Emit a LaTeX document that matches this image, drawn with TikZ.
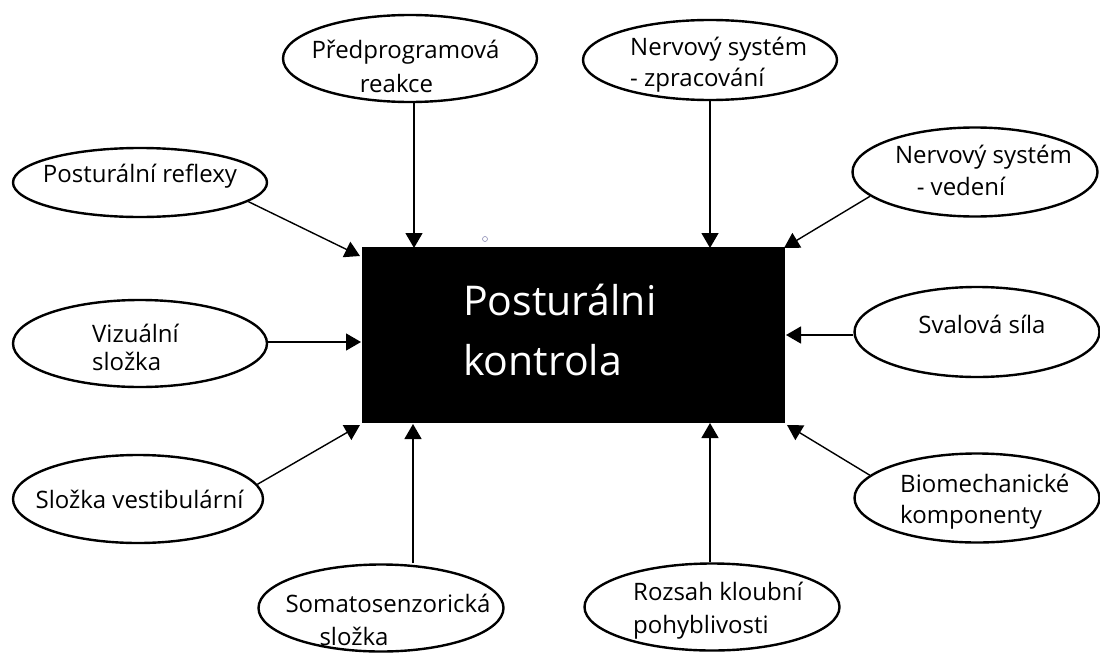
\documentclass[tikz,border=0pt]{standalone}
\usepackage{fontspec}
\setmainfont{Open Sans}
\usetikzlibrary{arrows.meta,shapes.geometric}
\begin{document}
\begin{tikzpicture}[x=1pt,y=-1pt,
  oval/.style={draw, ellipse, fill=white, line width=2.4pt, inner sep=0pt},
  lbl/.style={inner sep=0pt, font=\fontsize{24}{28}\selectfont},
  biglbl/.style={inner sep=0pt, text=white, font=\fontsize{41}{48}\selectfont},
  arr/.style={line width=1.4pt, -{Triangle[length=15pt,width=17pt]}},
]
\fill[white] (0,0) rectangle (1100,653);
\useasboundingbox (0,0) rectangle (1100,653);

% central box
\node[fill=black, minimum width=423pt, minimum height=176pt, inner sep=0pt] (pk) at (573.5,335) {};
\node[biglbl, anchor=base west] (pkA) at (463,315) {Posturálni};
\node[biglbl, anchor=base west] (pkB) at (463,375) {kontrola};

% ellipses
\node[oval, minimum width=254pt, minimum height=87pt] (pre) at (410,58.5) {};
\node[oval, minimum width=254pt, minimum height=80pt] (nz)  at (710,60) {};
\node[oval, minimum width=254pt, minimum height=69pt] (pr)  at (140,182.5) {};
\node[oval, minimum width=245pt, minimum height=89pt] (nv)  at (975,172) {};
\node[oval, minimum width=254pt, minimum height=87pt] (vi)  at (140,343.5) {};
\node[oval, minimum width=245pt, minimum height=90pt] (sv)  at (977,332) {};
\node[oval, minimum width=250pt, minimum height=88pt] (ve)  at (138,499) {};
\node[oval, minimum width=245pt, minimum height=89pt] (bi)  at (977,498) {};
\node[oval, minimum width=245pt, minimum height=87pt] (so)  at (381,608) {};
\node[oval, minimum width=255pt, minimum height=87pt] (ro)  at (712,607) {};

% labels
\node[lbl, anchor=base] (preA) at (405.5,58) {Předprogramová};
\node[lbl, anchor=base] (preB) at (396.5,92) {reakce};
\node[lbl, anchor=base west] (nzA) at (630,55) {Nervový systém};
\node[lbl, anchor=base west] (nzB) at (630,86) {- zpracování};
\node[lbl, anchor=base] (prA) at (140,182) {Posturální reflexy};
\node[lbl, anchor=base] (nvA) at (983.5,163) {Nervový systém};
\node[lbl, anchor=base] (nvB) at (961,195) {- vedení};
\node[lbl, anchor=base west] (viA) at (92,342) {Vizuální};
\node[lbl, anchor=base west] (viB) at (92,370) {složka};
\node[lbl, anchor=base] (svA) at (982,333) {Svalová síla};
\node[lbl, anchor=base] (veA) at (139.5,508) {Složka vestibulární};
\node[lbl, anchor=base west] (biA) at (900,492) {Biomechanické};
\node[lbl, anchor=base west] (biB) at (900,523) {komponenty};
\node[lbl, anchor=base] (soA) at (388,612) {Somatosenzorická};
\node[lbl, anchor=base] (soB) at (354,645) {složka};
\node[lbl, anchor=base west] (roA) at (633,600) {Rozsah kloubní};
\node[lbl, anchor=base west] (roB) at (633,633) {pohyblivosti};

% arrow tips on the box
\coordinate (tPR)  at (360,256);
\coordinate (tPRE) at (414,248);
\coordinate (tNZ)  at (710,248);
\coordinate (tNV)  at (784,248);
\coordinate (tVI)  at (361,342);
\coordinate (tSV)  at (786,335);
\coordinate (tVE)  at (360,425);
\coordinate (tSO)  at (413,424);
\coordinate (tRO)  at (710,423);
\coordinate (tBI)  at (787,425);

% connectors
\draw[arr] (pr.-10) -- (tPR);
\draw[arr] (pre.south -| tPRE) -- (tPRE);
\draw[arr] (nz.south -| tNZ) -- (tNZ);
\draw[arr] (nv.193) -- (tNV);
\draw[arr] (vi.east |- tVI) -- (tVI);
\draw[arr] (sv.west |- tSV) -- (tSV);
\draw[arr] (ve.7) -- (tVE);
\draw[arr] (so.north -| tSO) -- (tSO);
\draw[arr] (ro.north -| tRO) -- (tRO);
\draw[arr] (bi.168) -- (tBI);

% small mark above the box
\draw[color={rgb,255:red,140;green,140;blue,180}, line width=0.6pt] (485,239) circle (2.5pt);
\end{tikzpicture}
\end{document}
